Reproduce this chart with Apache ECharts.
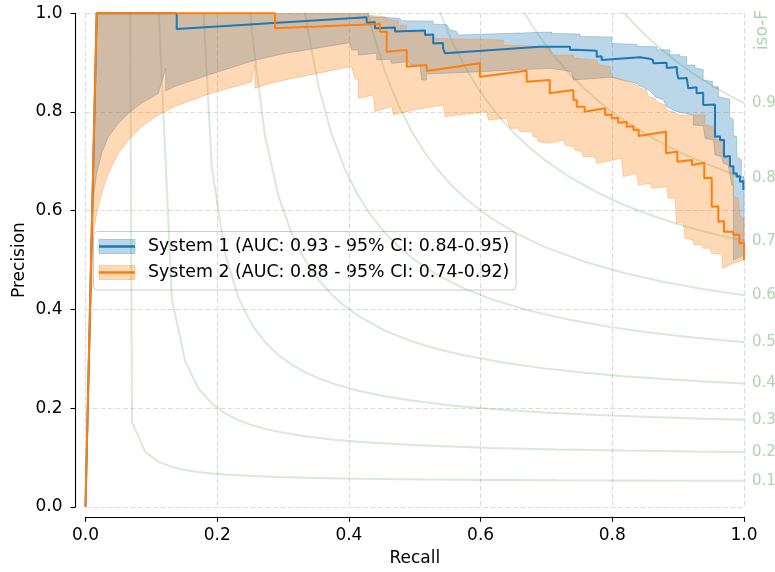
<!DOCTYPE html>
<html><head><meta charset="utf-8">
<script src="https://cdn.jsdelivr.net/npm/echarts@6/dist/echarts.min.js"></script>
<style>html,body{margin:0;padding:0;background:#fff}#c{width:775px;height:572px}</style>
</head><body><div id="c"></div>
<script>
// ---------- data (recall, precision) ----------
const sys1Line = [[0,0],[0.017,1.0],[0.1385,1.0],[0.1385,0.968],[0.427,0.992],[0.427,0.981],[0.4396,0.982],[0.4396,0.9695],[0.470,0.971],[0.470,0.963],[0.5156,0.965],[0.5156,0.956],[0.528,0.957],[0.528,0.939],[0.543,0.940],[0.543,0.929],[0.546,0.929],[0.546,0.919],[0.690,0.932],[0.690,0.929],[0.7358,0.9324],[0.7358,0.9257],[0.745,0.926],[0.745,0.922],[0.7763,0.924],[0.7763,0.912],[0.7839,0.913],[0.7839,0.9054],[0.842,0.911],[0.842,0.907],[0.857,0.908],[0.857,0.905],[0.862,0.905],[0.862,0.899],[0.8826,0.9],[0.8826,0.889],[0.898,0.891],[0.898,0.882],[0.9002,0.882],[0.9002,0.868],[0.913,0.869],[0.913,0.865],[0.9154,0.865],[0.9154,0.848],[0.928,0.85],[0.928,0.838],[0.938,0.839],[0.938,0.814],[0.956,0.815],[0.956,0.750],[0.9636,0.751],[0.9636,0.743],[0.9696,0.744],[0.9696,0.7094],[0.9787,0.711],[0.9787,0.69],[0.984,0.69],[0.984,0.675],[0.9889,0.676],[0.9889,0.669],[0.9939,0.67],[0.9939,0.6588],[0.999,0.66],[0.999,0.642],[1.0,0.642]];
const sys2Line = [[0,0],[0.017,1.0],[0.2878,1.0],[0.2878,0.9695],[0.4472,0.9783],[0.4472,0.9627],[0.4574,0.9627],[0.4574,0.9222],[0.4878,0.9256],[0.4878,0.8918],[0.518,0.8952],[0.518,0.8831],[0.599,0.8986],[0.599,0.8716],[0.670,0.8837],[0.670,0.8614],[0.705,0.865],[0.705,0.838],[0.7408,0.8446],[0.7408,0.8243],[0.746,0.8245],[0.746,0.8108],[0.758,0.8108],[0.758,0.8006],[0.789,0.8074],[0.789,0.7939],[0.799,0.795],[0.799,0.7872],[0.809,0.788],[0.809,0.7783],[0.8219,0.7795],[0.8219,0.7702],[0.832,0.771],[0.832,0.7635],[0.840,0.764],[0.840,0.7513],[0.8815,0.760],[0.8815,0.7163],[0.8987,0.7196],[0.8987,0.6993],[0.921,0.7027],[0.921,0.6926],[0.9397,0.6973],[0.9397,0.6656],[0.951,0.667],[0.951,0.6081],[0.961,0.609],[0.961,0.5777],[0.9696,0.579],[0.9696,0.5574],[0.9838,0.5574],[0.9838,0.551],[0.9929,0.552],[0.9929,0.534],[1.0,0.535],[1.0,0.50]];
const sys1Upper = [[0,0],[0.017,1.0],[0.43,1.0],[0.43,0.993],[0.4776,0.990],[0.480,0.985],[0.528,0.984],[0.528,0.978],[0.5485,0.977],[0.5535,0.966],[0.5637,0.963],[0.566,0.956],[0.708,0.962],[0.708,0.959],[0.751,0.958],[0.751,0.953],[0.799,0.952],[0.799,0.939],[0.837,0.937],[0.837,0.933],[0.8674,0.932],[0.8674,0.926],[0.8876,0.926],[0.8876,0.916],[0.9028,0.916],[0.9028,0.912],[0.913,0.912],[0.913,0.895],[0.925,0.895],[0.925,0.889],[0.938,0.886],[0.938,0.865],[0.952,0.862],[0.952,0.851],[0.961,0.851],[0.961,0.831],[0.978,0.826],[0.978,0.79],[0.9837,0.785],[0.9837,0.753],[0.9889,0.75],[0.9889,0.71],[0.996,0.703],[0.996,0.669],[1.0,0.669]];
const sys1Lower = [[0,0],[0.0119,0.628],[0.017,0.676],[0.0246,0.716],[0.0347,0.750],[0.050,0.777],[0.065,0.797],[0.085,0.8175],[0.1106,0.838],[0.1218,0.8885],[0.1218,0.843],[0.136,0.852],[0.1865,0.875],[0.2574,0.905],[0.30,0.918],[0.4017,0.9405],[0.4042,0.9256],[0.4143,0.9256],[0.4143,0.9155],[0.4422,0.9189],[0.4422,0.9054],[0.4624,0.9068],[0.4649,0.8986],[0.4902,0.902],[0.4927,0.8953],[0.508,0.8953],[0.5105,0.8649],[0.518,0.8649],[0.518,0.877],[0.599,0.8817],[0.7054,0.8885],[0.7383,0.8818],[0.7408,0.8649],[0.799,0.8703],[0.837,0.858],[0.842,0.853],[0.857,0.8432],[0.865,0.8311],[0.8774,0.8243],[0.8826,0.8108],[0.898,0.8007],[0.923,0.794],[0.923,0.7737],[0.938,0.7723],[0.9408,0.7466],[0.9535,0.7432],[0.956,0.7128],[0.9661,0.7095],[0.9686,0.6959],[0.976,0.6926],[0.9787,0.6723],[0.9813,0.652],[0.9838,0.652],[0.9838,0.50],[1.0,0.51]];
const sys2Upper = [[0,0],[0.017,1.0],[0.43,1.0],[0.43,0.996],[0.4548,0.993],[0.4574,0.988],[0.475,0.985],[0.475,0.976],[0.4878,0.975],[0.4878,0.963],[0.518,0.96],[0.528,0.949],[0.6345,0.946],[0.6345,0.936],[0.705,0.932],[0.708,0.9155],[0.7408,0.9155],[0.7434,0.9088],[0.7763,0.9054],[0.7788,0.8953],[0.7965,0.8919],[0.799,0.8716],[0.837,0.8547],[0.842,0.848],[0.852,0.8446],[0.8547,0.8311],[0.865,0.8277],[0.8674,0.8209],[0.88,0.8142],[0.8826,0.804],[0.898,0.7973],[0.9002,0.7939],[0.9408,0.7939],[0.9408,0.7737],[0.956,0.77],[0.956,0.745],[0.966,0.743],[0.9686,0.713],[0.976,0.71],[0.9787,0.69],[0.9838,0.685],[0.9838,0.63],[0.9914,0.625],[0.9939,0.59],[1.0,0.585]];
const sys2Lower = [[0,0],[0.0119,0.554],[0.017,0.595],[0.0246,0.635],[0.0347,0.676],[0.0499,0.716],[0.065,0.743],[0.0853,0.770],[0.1106,0.794],[0.1359,0.811],[0.1613,0.824],[0.1865,0.836],[0.2118,0.846],[0.2372,0.855],[0.252,0.861],[0.2574,0.8953],[0.2574,0.848],[0.280,0.858],[0.303,0.865],[0.4017,0.8918],[0.4042,0.8918],[0.4093,0.8682],[0.4143,0.8649],[0.4143,0.8277],[0.437,0.8344],[0.4396,0.8006],[0.465,0.8108],[0.4675,0.7939],[0.4978,0.804],[0.5434,0.8142],[0.5459,0.7905],[0.6093,0.8006],[0.6118,0.7838],[0.6396,0.7872],[0.6447,0.767],[0.6573,0.767],[0.6598,0.760],[0.6776,0.760],[0.6801,0.750],[0.685,0.750],[0.6877,0.7398],[0.7054,0.7366],[0.7256,0.7433],[0.7281,0.7331],[0.7408,0.7298],[0.7434,0.723],[0.7535,0.7196],[0.756,0.7095],[0.7737,0.7095],[0.7763,0.696],[0.8143,0.7062],[0.8168,0.669],[0.837,0.6757],[0.8395,0.6521],[0.8573,0.6555],[0.8598,0.6454],[0.8826,0.6486],[0.8851,0.6251],[0.8952,0.6251],[0.8977,0.5745],[0.9078,0.5777],[0.9104,0.5441],[0.923,0.5406],[0.924,0.5305],[0.9357,0.5305],[0.9382,0.5238],[0.9484,0.5238],[0.9509,0.5137],[0.9661,0.5122],[0.9676,0.4833],[0.9838,0.4934],[1.0,0.50]];

const legendLabels = ['System 1 (AUC: 0.93 - 95% CI: 0.84-0.95)', 'System 2 (AUC: 0.88 - 95% CI: 0.74-0.92)'];
const isoFLabels = ['0.1','0.2','0.3','0.4','0.5','0.6','0.7','0.8','0.9'];
const isoF01 = [[0.0504,6.18],[0.0706,0.1714],[0.0908,0.1113],[0.1110,0.0910],[0.1312,0.0808],[0.1514,0.0747],[0.1716,0.0706],[0.1918,0.0676],[0.2120,0.0654],[0.2524,0.0624],[0.2929,0.0603],[0.3333,0.0588],[0.3737,0.0577],[0.4141,0.0569],[0.5151,0.0554],[0.6161,0.0544],[0.7171,0.0537],[0.8182,0.0533],[0.9192,0.0529],[1.0,0.0526]];
const isoF02 = [[0.1110,1.009],[0.1312,0.4205],[0.1514,0.2946],[0.1716,0.2397],[0.1918,0.2089],[0.2120,0.1893],[0.2322,0.1756],[0.2524,0.1656],[0.2727,0.1579],[0.2929,0.1518],[0.3333,0.1429],[0.3737,0.1365],[0.4141,0.1318],[0.4747,0.1267],[0.5353,0.1230],[0.6161,0.1194],[0.7171,0.1162],[0.8182,0.1139],[0.9192,0.1122],[1.0,0.1111]];
const isoF03 = [[0.1716,1.1917],[0.1918,0.6883],[0.2120,0.5129],[0.2322,0.4237],[0.2524,0.3697],[0.2727,0.3334],[0.2929,0.3075],[0.3131,0.2880],[0.3333,0.2728],[0.3535,0.2606],[0.3737,0.2506],[0.4141,0.2352],[0.4545,0.2239],[0.4949,0.2152],[0.5555,0.2055],[0.6161,0.1983],[0.6969,0.1911],[0.7778,0.1858],[0.8586,0.1818],[0.9394,0.1785],[1.0,0.1765]];
const isoF04 = [[0.2322,1.4422],[0.2524,0.9634],[0.2727,0.7502],[0.2929,0.6306],[0.3131,0.5537],[0.3333,0.5001],[0.3535,0.4606],[0.3737,0.4303],[0.3939,0.4063],[0.4141,0.3868],[0.4545,0.3572],[0.4949,0.3356],[0.5353,0.3193],[0.5757,0.3065],[0.6363,0.2917],[0.6969,0.2805],[0.7576,0.2717],[0.8182,0.2647],[0.8788,0.2589],[0.9394,0.2541],[1.0,0.25]];
const isoF05 = [[0.3131,1.2405],[0.3333,1.0003],[0.3535,0.8539],[0.3737,0.7553],[0.3939,0.6843],[0.4141,0.6309],[0.4343,0.5891],[0.4545,0.5556],[0.4747,0.5282],[0.4949,0.5052],[0.5353,0.4691],[0.5757,0.4419],[0.6161,0.4207],[0.6767,0.3965],[0.7373,0.3783],[0.7980,0.3641],[0.8586,0.3527],[0.9192,0.3434],[1.0,0.3333]];
const isoF06 = [[0.4141,1.0888],[0.4343,0.9701],[0.4545,0.8825],[0.4747,0.8152],[0.4949,0.7618],[0.5151,0.7184],[0.5353,0.6825],[0.5555,0.6523],[0.5757,0.6264],[0.6161,0.5847],[0.6565,0.5525],[0.6969,0.5268],[0.7576,0.4967],[0.8182,0.4737],[0.8788,0.4555],[0.9394,0.4408],[1.0,0.4286]];
const isoF07 = [[0.5353,1.0111],[0.5555,0.9461],[0.5757,0.8928],[0.5959,0.8482],[0.6161,0.8104],[0.6363,0.7779],[0.6565,0.7497],[0.6767,0.7250],[0.6969,0.7031],[0.7373,0.6663],[0.7778,0.6364],[0.8182,0.6116],[0.8586,0.5909],[0.8990,0.5731],[0.9394,0.5578],[1.0,0.5385]];
const isoF08 = [[0.6565,1.0238],[0.6767,0.9782],[0.6969,0.9389],[0.7171,0.9046],[0.7373,0.8744],[0.7576,0.8474],[0.7778,0.8235],[0.7980,0.8020],[0.8182,0.7826],[0.8586,0.7489],[0.8990,0.7206],[0.9394,0.6966],[0.9798,0.6760],[1.0,0.6667]];
const isoF09 = [[0.7980,1.0319],[0.8182,1.0000],[0.8384,0.9714],[0.8586,0.9456],[0.8788,0.9223],[0.8990,0.9010],[0.9192,0.8816],[0.9394,0.8638],[0.9596,0.8474],[0.9798,0.8322],[1.0,0.8182]];
const isoFCurves = [isoF01, isoF02, isoF03, isoF04, isoF05, isoF06, isoF07, isoF08, isoF09];

// ---------- styles ----------
const FONT = 'DejaVu Sans';
const BLUE = '#1f77b4', ORANGE = '#ff7f0e';
const BLUE_FILL = 'rgba(31,119,180,0.3)', ORANGE_FILL = 'rgba(255,127,14,0.3)';
const ISO_COLOR = 'rgba(0,128,0,0.16)', ISO_TEXT = 'rgba(0,128,0,0.33)';

const chart = echarts.init(document.getElementById('c'), null, {renderer: 'canvas'});

function band(upper, lower, fill, z) {
  return {
    type: 'custom', silent: true, z: z, clip: true,
    data: [[0, 0]], encode: {x: 0, y: 1},
    renderItem: function (params, api) {
      const pts = upper.map(p => api.coord(p)).concat(lower.slice().reverse().map(p => api.coord(p)));
      return {type: 'polygon', shape: {points: pts}, style: {fill: fill, stroke: fill, lineWidth: 1}};
    }
  };
}

const series = [];
isoFCurves.forEach((c, i) => {
  series.push({
    type: 'line', data: c, symbol: 'none', silent: true, z: 1, clip: true,
    lineStyle: {color: ISO_COLOR, width: 2},
    endLabel: {show: true, formatter: isoFLabels[i], color: ISO_TEXT, fontSize: 15, fontFamily: FONT, distance: 8}
  });
});
series.push(band(sys1Upper, sys1Lower, BLUE_FILL, 2));
series.push(band(sys2Upper, sys2Lower, ORANGE_FILL, 3));
series.push({type: 'line', name: legendLabels[0], data: sys1Line, symbol: 'none', z: 4, clip: false, lineStyle: {color: BLUE, width: 2}});
series.push({type: 'line', name: legendLabels[1], data: sys2Line, symbol: 'none', z: 5, clip: false, lineStyle: {color: ORANGE, width: 2}});

function axisCommon() {
  return {
    type: 'value', min: 0, max: 1, interval: 0.2, offset: 10,
    axisLine: {show: true, onZero: false, lineStyle: {color: '#000', width: 1.1}},
    axisTick: {show: true, length: 5, lineStyle: {color: '#000', width: 1.1}},
    axisLabel: {formatter: v => v.toFixed(1), color: '#000', fontSize: 17, fontFamily: FONT},
    splitLine: {show: true, lineStyle: {color: '#dcdcdc', width: 1.2, type: [5, 2.5]}},
    nameLocation: 'middle',
    nameMoveOverlap: false,
    nameTextStyle: {color: '#000', fontSize: 17, fontFamily: FONT}
  };
}
const xAxis = Object.assign(axisCommon(), {name: 'Recall', nameGap: 33});
xAxis.axisLabel.margin = 10;
const yAxis = Object.assign(axisCommon(), {name: 'Precision', nameGap: 47});
yAxis.axisLabel.margin = 13;

const lx = 93.5, ly = 231.5;
const LFONT = '17.4px "DejaVu Sans"';
const option = {
  animation: false,
  textStyle: {fontFamily: FONT},
  grid: {left: 85.5, right: 31, top: 13.3, bottom: 65.2, containLabel: false},
  xAxis: xAxis,
  yAxis: yAxis,
  series: series,
  graphic: [
    {type: 'text', x: 763, y: 30, rotation: Math.PI / 2, style: {text: 'iso-F', fill: ISO_TEXT, font: '17px "DejaVu Sans"', textAlign: 'center', textVerticalAlign: 'middle'}, z: 10},
    {type: 'group', x: lx, y: ly, z: 100, children: [
      {type: 'rect', shape: {x: 0, y: 0, width: 422.5, height: 58.5, r: 4}, style: {fill: 'rgba(255,255,255,0.8)', stroke: '#cccccc', lineWidth: 1}},
      {type: 'rect', shape: {x: 5.5, y: 8, width: 36, height: 14}, style: {fill: BLUE_FILL, stroke: BLUE_FILL, lineWidth: 1}},
      {type: 'line', shape: {x1: 5.5, y1: 15, x2: 41.5, y2: 15}, style: {stroke: BLUE, lineWidth: 2.5}},
      {type: 'text', x: 54.5, y: 15, style: {text: legendLabels[0], font: LFONT, fill: '#000', textVerticalAlign: 'middle'}},
      {type: 'rect', shape: {x: 5.5, y: 34, width: 36, height: 14}, style: {fill: ORANGE_FILL, stroke: ORANGE_FILL, lineWidth: 1}},
      {type: 'line', shape: {x1: 5.5, y1: 41, x2: 41.5, y2: 41}, style: {stroke: ORANGE, lineWidth: 2.5}},
      {type: 'text', x: 54.5, y: 41, style: {text: legendLabels[1], font: LFONT, fill: '#000', textVerticalAlign: 'middle'}}
    ]}
  ]
};
chart.setOption(option);
</script>
</body></html>
